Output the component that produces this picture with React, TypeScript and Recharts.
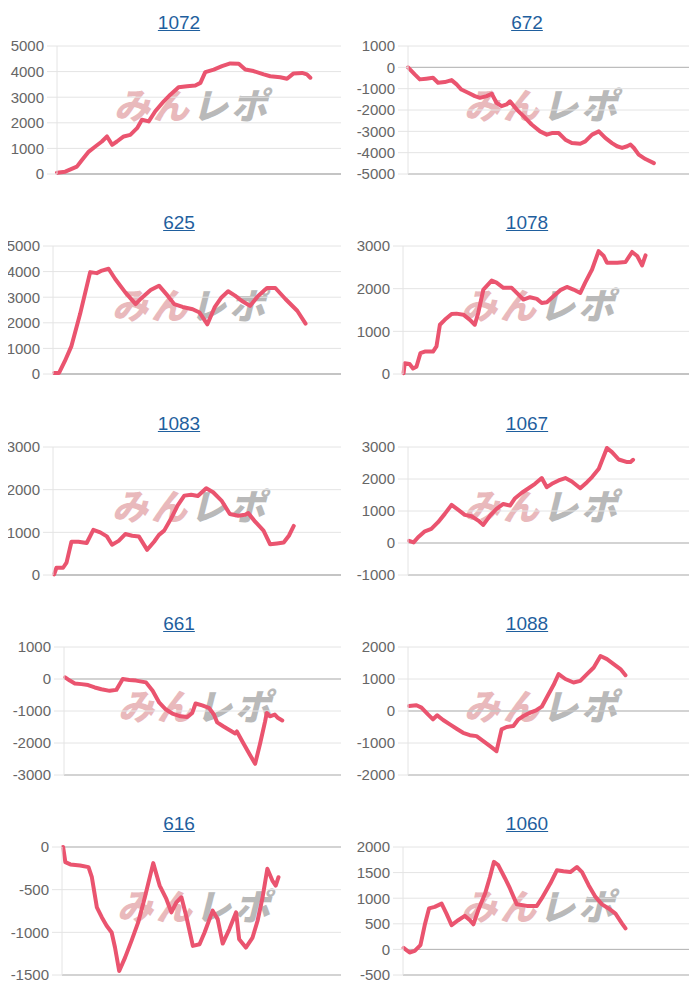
import React from "react";
import { LineChart, Line, XAxis, YAxis, CartesianGrid, ReferenceLine } from "recharts";

// [x position on a 0..100 time axis, value]
const s1072: [number, number][] = [
  [0, 50], [2.9, 90], [7.0, 288], [8.8, 550], [11.2, 877], [13.5, 1073], [15.8, 1270], [17.6, 1466],
  [19.4, 1140], [21.1, 1270], [23.5, 1466], [25.8, 1530], [28.2, 1790], [29.9, 2120], [32.3, 2055],
  [34.6, 2450], [37.6, 2840], [39.9, 3100], [42.8, 3390], [45.8, 3430], [48.7, 3455], [50.5, 3560],
  [52.2, 3980], [55.2, 4080], [58.1, 4210], [61.0, 4320], [64.0, 4305], [66.3, 4080], [69.2, 4020],
  [72.8, 3890], [75.1, 3820], [78.6, 3780], [81.0, 3720], [83.3, 3930], [86.3, 3950], [88.0, 3890],
  [89.2, 3760],
];
const s672: [number, number][] = [
  [0, 0], [2.4, -330], [4.2, -565], [6.5, -530], [8.9, -490], [10.7, -720], [13.1, -690], [15.5, -600],
  [17.3, -800], [19.0, -1040], [21.4, -1190], [23.8, -1350], [25.6, -1430], [28.0, -1350], [29.8, -1240],
  [31.5, -1660], [33.3, -1820], [35.1, -1740], [36.3, -1590], [38.7, -1980], [41.1, -2290], [44.0, -2680],
  [47.0, -3000], [49.4, -3155], [51.2, -3080], [53.6, -3080], [56.0, -3390], [58.3, -3550], [61.3, -3580],
  [63.1, -3470], [65.5, -3155], [67.9, -3000], [70.2, -3310], [72.6, -3550], [74.4, -3700], [76.2, -3780],
  [78.0, -3700], [79.2, -3620], [80.4, -3780], [82.1, -4090], [84.5, -4300], [87.5, -4490],
];
const s625: [number, number][] = [
  [0.4, 40], [2.1, 40], [4.1, 500], [6.4, 1090], [9.4, 2340], [12.9, 3980], [15.2, 3940], [17.0, 4040],
  [19.3, 4110], [21.6, 3710], [25.1, 3190], [28.7, 2730], [30.4, 2930], [33.9, 3280], [36.8, 3450],
  [39.8, 3060], [42.1, 2730], [45.0, 2620], [48.5, 2530], [50.9, 2400], [53.6, 1940], [56.1, 2600],
  [58.5, 2990], [60.8, 3230], [63.2, 3060], [65.5, 2860], [68.4, 2660], [71.3, 3060], [74.3, 3360],
  [77.2, 3360], [80.7, 2930], [84.8, 2470], [87.7, 1970],
];
const s1078: [number, number][] = [
  [0.2, 15], [0.6, 250], [2.3, 235], [3.5, 130], [4.7, 170], [6.1, 490], [7.6, 525], [10.5, 525],
  [11.7, 645], [12.9, 1155], [14.6, 1270], [17.0, 1405], [18.7, 1415], [21.1, 1390], [23.4, 1270],
  [25.1, 1155], [26.3, 1430], [28.1, 1980], [31.0, 2190], [32.7, 2140], [35.1, 2020], [38.0, 2020],
  [40.4, 1860], [42.1, 1745], [44.4, 1800], [46.8, 1760], [48.5, 1665], [50.3, 1680], [52.6, 1820],
  [55.0, 1965], [57.3, 2040], [59.6, 1980], [62.0, 1900], [63.7, 2140], [66.1, 2450], [68.4, 2880],
  [70.2, 2765], [71.3, 2610], [74.9, 2610], [77.8, 2625], [80.1, 2860], [81.9, 2765], [83.6, 2545],
  [84.8, 2780],
];
const s1083: [number, number][] = [
  [0.4, 15], [1.2, 170], [3.5, 170], [4.7, 290], [6.4, 780], [8.8, 780], [11.7, 750], [14.0, 1060],
  [16.4, 1000], [18.7, 905], [20.5, 710], [22.8, 800], [25.1, 960], [27.5, 920], [29.8, 905], [32.7, 590],
  [35.1, 780], [36.8, 940], [38.6, 1040], [40.9, 1310], [43.3, 1630], [45.6, 1860], [48.0, 1880],
  [50.3, 1850], [53.2, 2035], [55.6, 1940], [58.5, 1745], [61.4, 1430], [64.3, 1390], [66.7, 1410],
  [67.8, 1450], [70.2, 1250], [73.1, 1040], [75.4, 720], [77.8, 740], [80.1, 760], [81.9, 920], [83.6, 1150],
];
const s1067: [number, number][] = [
  [0.4, 70], [2.0, 20], [3.6, 180], [6.0, 365], [8.3, 440], [10.7, 650], [13.1, 910], [15.5, 1190],
  [17.9, 1035], [20.2, 880], [22.6, 835], [25.0, 700], [26.8, 565], [29.2, 855], [31.5, 1065], [33.9, 1220],
  [36.3, 1170], [38.1, 1400], [40.5, 1570], [42.9, 1710], [45.2, 1850], [47.6, 2030], [49.4, 1745],
  [51.2, 1850], [53.6, 1955], [56.0, 2030], [58.3, 1920], [61.3, 1710], [63.7, 1900], [65.5, 2060],
  [67.9, 2320], [70.8, 2970], [72.6, 2840], [75.0, 2610], [78.0, 2530], [79.2, 2530], [80.1, 2600],
];
const s661: [number, number][] = [
  [0.4, 50], [2.1, -50], [3.9, -140], [6.3, -160], [8.7, -190], [11.1, -265], [13.5, -320], [16.5, -370],
  [18.9, -340], [21.2, 0], [23.6, -30], [26.0, -50], [29.6, -105], [32.0, -370], [34.4, -740], [36.8, -955],
  [39.1, -1080], [42.1, -1165], [44.5, -1190], [46.3, -1060], [47.5, -765], [49.9, -825], [52.3, -900],
  [54.1, -1110], [55.3, -1355], [57.6, -1485], [60.0, -1610], [61.8, -1700], [62.4, -1640], [64.8, -2015],
  [67.2, -2385], [69.0, -2650], [70.8, -2015], [72.6, -1325], [73.2, -1060], [74.3, -1165], [76.1, -1110],
  [77.3, -1220], [78.8, -1295],
];
const s1088: [number, number][] = [
  [0.4, 155], [3.0, 180], [4.8, 105], [7.1, -105], [8.9, -260], [10.4, -135], [12.5, -280], [14.9, -420],
  [17.3, -555], [19.6, -680], [22.0, -755], [24.4, -785], [26.8, -940], [29.2, -1100], [31.5, -1255],
  [33.3, -575], [35.1, -500], [37.5, -470], [39.3, -260], [41.1, -155], [43.5, -50], [45.8, 30], [47.6, 135],
  [50.0, 525], [51.8, 810], [53.6, 1155], [56.0, 1000], [58.9, 890], [61.3, 940], [63.7, 1150], [66.1, 1360],
  [68.5, 1720], [70.8, 1620], [73.2, 1465], [75.6, 1310], [77.4, 1120],
];
const s616: [number, number][] = [
  [0.4, 0], [1.2, -177], [3.0, -204], [6.5, -216], [9.5, -236], [10.7, -354], [12.5, -707], [14.3, -825],
  [16.0, -923], [17.8, -1002], [19.0, -1178], [20.5, -1453], [22.6, -1296], [24.9, -1100], [27.3, -884],
  [29.7, -589], [32.7, -189], [35.0, -452], [37.4, -609], [39.2, -766], [41.0, -648], [42.8, -589],
  [44.5, -805], [46.9, -1159], [49.3, -1139], [51.1, -1002], [54.0, -746], [55.8, -845], [57.6, -1132],
  [60.0, -962], [62.4, -766], [63.5, -1080], [65.9, -1178], [68.3, -1061], [70.1, -864], [71.9, -589],
  [73.6, -255], [75.4, -393], [76.6, -452], [77.6, -354],
];
const s1060: [number, number][] = [
  [0.2, 30], [2.3, -60], [4.1, -30], [6.1, 85], [7.6, 475], [9.1, 800], [11.1, 830], [13.5, 895],
  [15.2, 700], [17.0, 475], [19.3, 570], [21.6, 655], [23.4, 570], [24.6, 490], [26.3, 765], [28.7, 1090],
  [30.4, 1415], [31.8, 1710], [33.3, 1645], [35.7, 1385], [37.4, 1190], [39.8, 880], [43.3, 850],
  [46.8, 850], [48.5, 995], [51.5, 1285], [53.8, 1545], [56.1, 1525], [58.5, 1510], [60.8, 1610],
  [62.6, 1510], [64.9, 1255], [67.3, 1025], [69.6, 880], [71.9, 800], [74.3, 700], [76.6, 505], [77.8, 410],
];

const titles = ["1072", "672", "625", "1078", "1083", "1067", "661", "1088", "616", "1060"];
const series = [s1072, s672, s625, s1078, s1083, s1067, s661, s1088, s616, s1060];
const ticks0to5000 = [0, 1000, 2000, 3000, 4000, 5000];
const ticksM5000to1000 = [-5000, -4000, -3000, -2000, -1000, 0, 1000];
const ticks0to3000 = [0, 1000, 2000, 3000];
const ticksM1000to3000 = [-1000, 0, 1000, 2000, 3000];
const ticksM3000to1000 = [-3000, -2000, -1000, 0, 1000];
const ticksM2000to2000 = [-2000, -1000, 0, 1000, 2000];
const ticksM1500to0 = [-1500, -1000, -500, 0];
const ticksM500to2000 = [-500, 0, 500, 1000, 1500, 2000];
const tickSets = [
  ticks0to5000, ticksM5000to1000, ticks0to5000, ticks0to3000, ticks0to3000,
  ticksM1000to3000, ticksM3000to1000, ticksM2000to2000, ticksM1500to0, ticksM500to2000,
];
const yWidths = [49, 52, 45, 47, 45, 52, 56, 52, 54, 47];
const rowTops = [0, 200, 401, 601, 801];

const CELL_W = 342;
const CELL_H = 200;
const PLOT_TOP = 38;
const PLOT_BOTTOM = 166;
const RIGHT_M = 9;

function Panel({ idx }: { idx: number }) {
  const col = idx % 2;
  const row = Math.floor(idx / 2);
  const ticks = tickSets[idx];
  const lo = ticks[0];
  const hi = ticks[ticks.length - 1];
  const data = series[idx].map(([x, y]) => ({ x, y }));
  const yW = yWidths[idx];
  const plotCenter = (yW + CELL_W - RIGHT_M) / 2 - 3;
  return (
    <div
      style={{
        position: "absolute",
        left: col === 0 ? 0 : 348,
        top: rowTops[row],
        width: CELL_W,
        height: CELL_H,
      }}
    >
      <div
        style={{
          position: "absolute",
          top: 3,
          left: 0,
          width: CELL_W,
          textAlign: "center",
          fontFamily: '"Liberation Sans", Arial, sans-serif',
          fontSize: 19,
          lineHeight: "24px",
          color: "#1f5f9e",
          textDecoration: "underline",
        }}
      >
        {titles[idx]}
      </div>
      <div
        style={{
          position: "absolute",
          left: plotCenter,
          top: 95,
          transform: "translate(-50%, -50%) skewX(-14deg)",
          whiteSpace: "nowrap",
          fontFamily: '"Noto Sans CJK JP", sans-serif',
          fontWeight: 900,
          fontSize: 36,
          lineHeight: "36px",
          letterSpacing: 3,
        }}
      >
        <span style={{ color: "#e9b9bc" }}>みん</span>
        <span style={{ color: "#b9b9b9" }}>レポ</span>
      </div>
      <div style={{ position: "absolute", left: 0, top: 0 }}>
        <LineChart
          width={CELL_W}
          height={CELL_H}
          data={data}
          margin={{ top: PLOT_TOP, right: RIGHT_M, bottom: CELL_H - PLOT_BOTTOM, left: 0 }}
        >
          <CartesianGrid vertical={false} stroke="#e4e4e4" strokeWidth={1} />
          <XAxis type="number" dataKey="x" domain={[0, 100]} hide />
          <YAxis
            type="number"
            domain={[lo, hi]}
            ticks={ticks}
            interval={0}
            width={yW}
            tickSize={10}
            tickMargin={3}
            tickLine={{ stroke: "#e4e4e4" }}
            axisLine={{ stroke: "#e4e4e4" }}
            tick={{ fill: "#666666", fontSize: 15, fontFamily: '"Liberation Sans", Arial, sans-serif' }}
          />
          <ReferenceLine y={lo} stroke="#b5b5b5" strokeWidth={1} />
          <ReferenceLine y={0} stroke="#b5b5b5" strokeWidth={1} />
          <Line
            type="linear"
            dataKey="y"
            stroke="#ea546f"
            strokeWidth={4}
            dot={false}
            activeDot={false}
            strokeLinejoin="round"
            strokeLinecap="round"
            isAnimationActive={false}
          />
        </LineChart>
      </div>
    </div>
  );
}

export default function App() {
  return (
    <div style={{ position: "relative", width: 692, height: 990 }}>
      {titles.map((_, i) => (
        <Panel key={i} idx={i} />
      ))}
    </div>
  );
}
